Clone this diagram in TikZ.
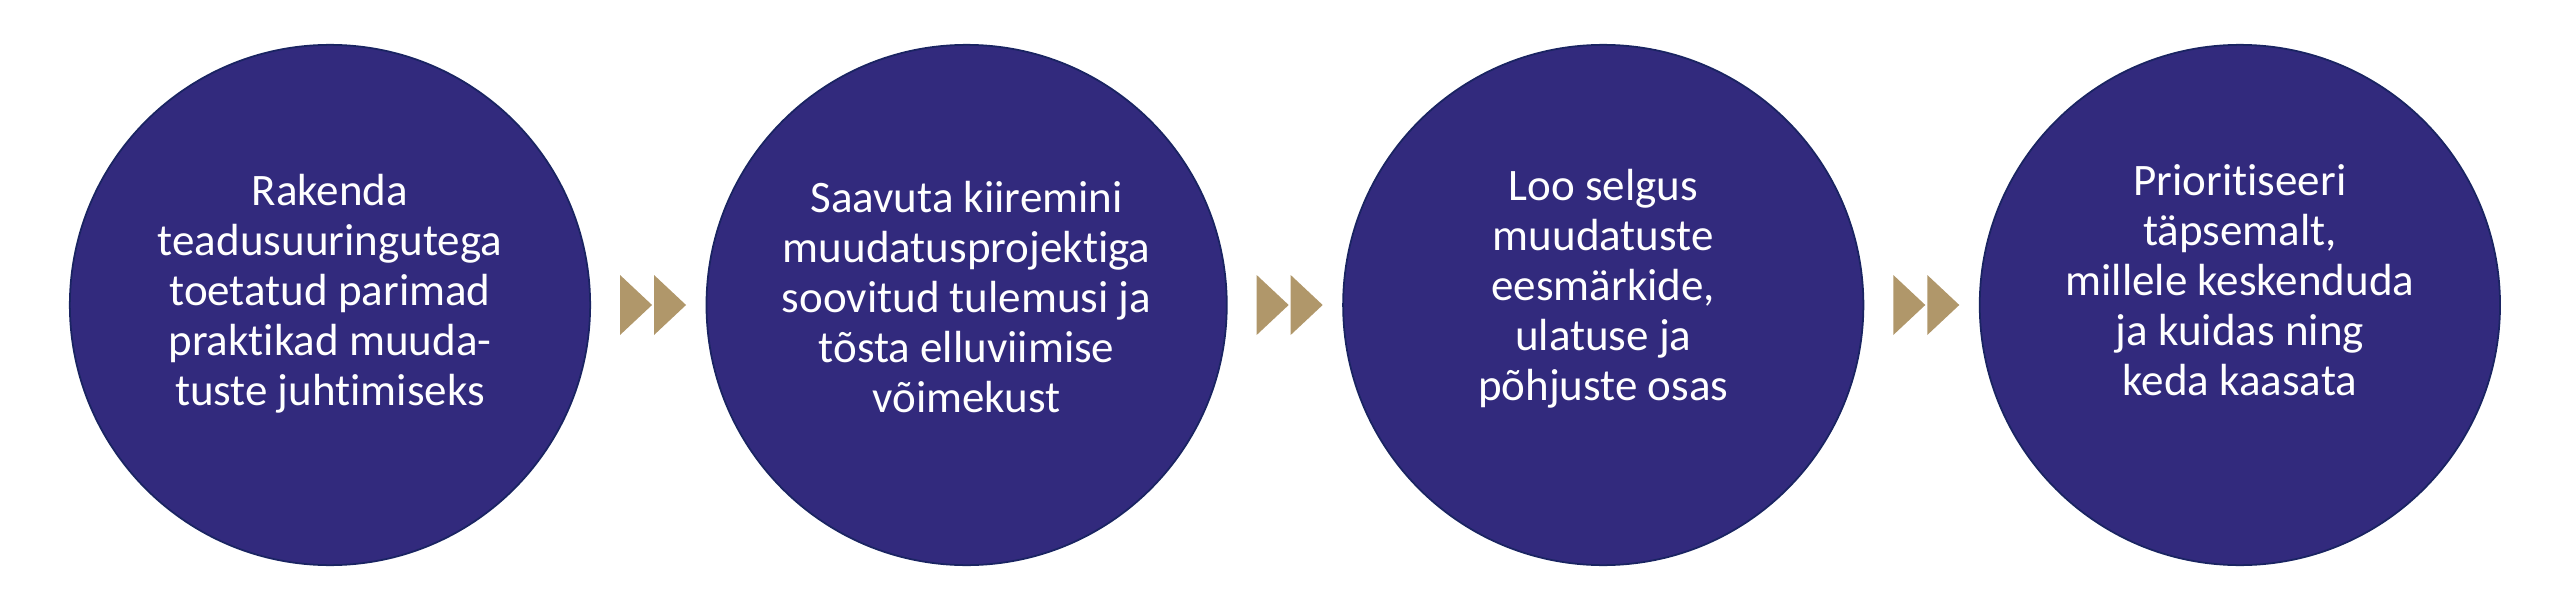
\documentclass[tikz,border=0pt]{standalone}
\usepackage{fontspec}
\setmainfont{Carlito}[Ligatures=NoCommon]
\usetikzlibrary{positioning}
\usetikzlibrary{calc}
\definecolor{ringblue}{RGB}{50,42,125}
\definecolor{ringedge}{RGB}{26,36,98}
\definecolor{chevgold}{RGB}{176,151,106}

\begin{document}
\begin{tikzpicture}[x=0.01cm,y=-0.01cm,
 ring/.style={circle,fill=ringblue,draw=ringedge,line width=0.5pt,minimum size=5.2cm,inner sep=0pt},
 ringtext/.style={text=white,align=center,anchor=base,font=\fontsize{12.8}{14.2}\selectfont},
 chev/.style={fill=chevgold}]
 \useasboundingbox (0,0) rectangle (2560,609);
 \node[ring] (c1) at (330,305) {};
 \node[ring,right=1.145cm of c1] (c2) {};
 \node[ring,right=1.145cm of c2] (c3) {};
 \node[ring,right=1.145cm of c3] (c4) {};
 % text placed by the baseline of its last line
 \node[ringtext] (t1) at ($(c1.center)+(0,100)$) {Rakenda\\teadusuuringutega\\toetatud parimad\\praktikad muuda-\\tuste juhtimiseks};
 \node[ringtext] (t2) at ($(c2.center)+(0,107)$) {Saavuta kiiremini\\muudatusprojektiga\\soovitud tulemusi ja\\tõsta elluviimise\\võimekust};
 \node[ringtext] (t3) at ($(c3.center)+(0,95)$) {Loo selgus\\muudatuste\\eesmärkide,\\ulatuse ja\\põhjuste osas};
 \node[ringtext] (t4) at ($(c4.center)+(0,90)$) {Prioritiseeri\\täpsemalt,\\millele keskenduda\\ja kuidas ning\\keda kaasata};
 \foreach \from in {c1,c2,c3}
  \foreach \dx in {29,63}
   \fill[chev] ($(\from.east)+(\dx,-30)$) -- ++(32,30) -- ++(-32,30) -- cycle;
\end{tikzpicture}
\end{document}
